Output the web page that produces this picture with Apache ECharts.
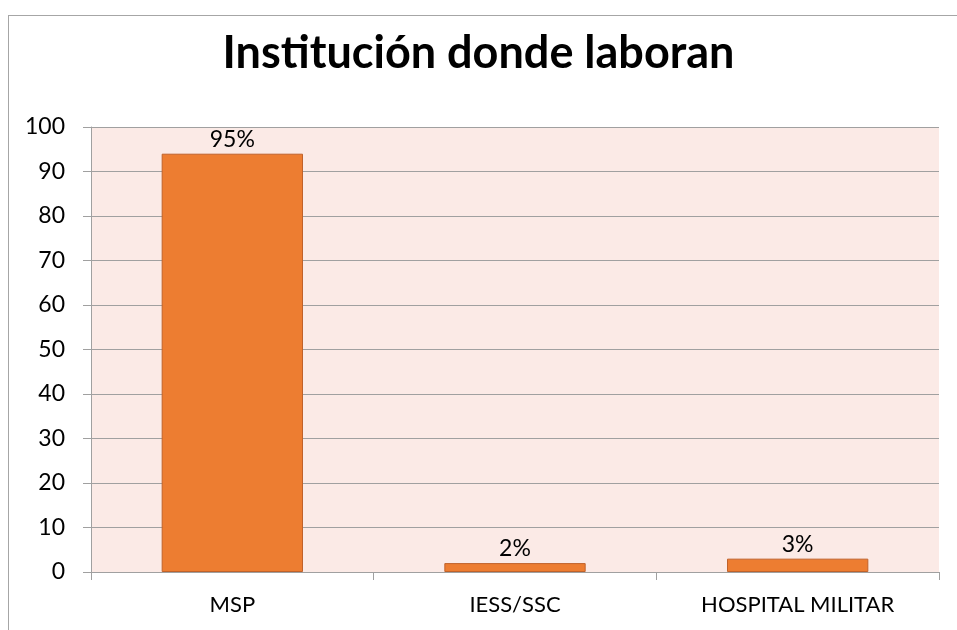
<!DOCTYPE html>
<html>
<head>
<meta charset="utf-8">
<script src="https://cdn.jsdelivr.net/npm/echarts@6/dist/echarts.min.js"></script>
<style>
  html, body { margin: 0; padding: 0; background: #fff; }
  #frame { position: absolute; left: 8px; top: 15px; width: 960px; height: 640px; border: 1px solid #a6a6a6; box-sizing: border-box; }
  #main { position: absolute; left: 0; top: 0; width: 957px; height: 630px; }
</style>
</head>
<body>
<div id="frame"></div>
<div id="main"></div>
<script>
// datos del gráfico
const categories = ['MSP', 'IESS/SSC', 'HOSPITAL MILITAR']
const values = [94, 2, 3]
const labels = ['95%', '2%', '3%']
const yTicks = { min: 0, max: 100, interval: 10 }

const chart = echarts.init(document.getElementById('main'))
const font = 'Lato, "Open Sans", sans-serif'

chart.setOption({
  animation: false,
  title: {
    text: 'Institución donde laboran',
    left: 'center',
    top: 26,
    textStyle: { fontFamily: font, fontSize: 45, fontWeight: 'bold', color: '#000' },
  },
  grid: { left: 91, right: 18, top: 127, bottom: 58, containLabel: false,
    show: true, backgroundColor: '#fbeae6', borderWidth: 0 },
  xAxis: {
    type: 'category',
    data: categories,
    axisLine: { lineStyle: { color: '#a0a0a0', width: 1 } },
    axisTick: { show: true, length: 8, alignWithLabel: false, lineStyle: { color: '#a0a0a0' } },
    axisLabel: { fontFamily: font, fontSize: 22, color: '#000', margin: 22 },
  },
  yAxis: {
    type: 'value',
    min: yTicks.min,
    max: yTicks.max,
    interval: yTicks.interval,
    axisLine: { show: true, lineStyle: { color: '#a0a0a0', width: 1 } },
    axisTick: { show: true, length: 8, lineStyle: { color: '#a0a0a0' } },
    axisLabel: { fontFamily: font, fontSize: 23, color: '#000', margin: 26 },
    splitLine: { lineStyle: { color: '#a0a0a0', width: 1 } },
  },
  series: [
    {
      type: 'bar',
      data: values,
      barWidth: '50%',
      itemStyle: { color: '#ed7d31', borderColor: '#c0622a', borderWidth: 1 },
      label: {
        show: true,
        position: 'top',
        distance: 3,
        fontFamily: font,
        fontSize: 23,
        color: '#000',
        formatter: p => labels[p.dataIndex],
      },
    },
  ],
})
</script>
</body>
</html>
